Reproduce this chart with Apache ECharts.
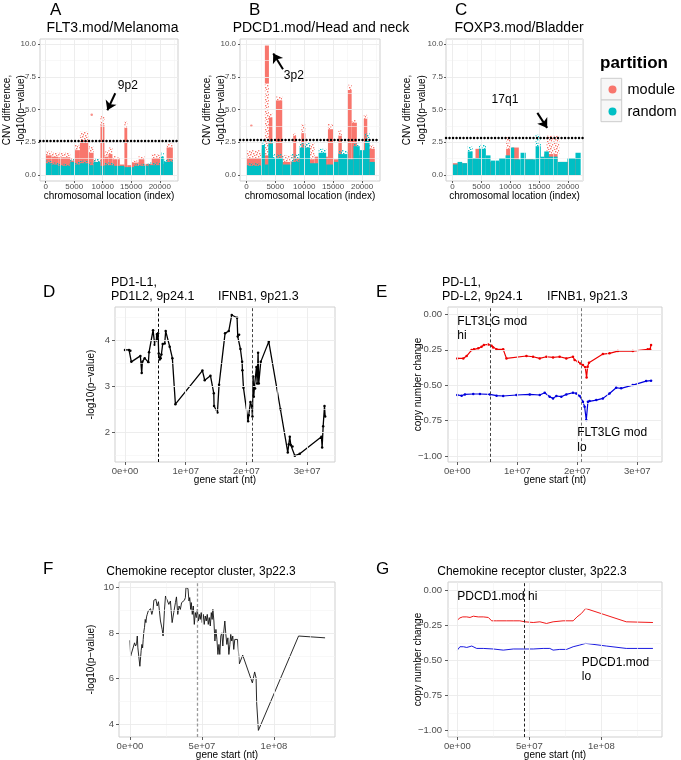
<!DOCTYPE html>
<html><head><meta charset="utf-8">
<script src="https://cdn.jsdelivr.net/npm/echarts@6/dist/echarts.min.js"></script>
<style>html,body{margin:0;padding:0;background:#fff}#c{width:681px;height:760px}</style>
</head><body><div id="c"></div>
<script>
// ---------------- DATA ----------------
// Panels A-C: point clouds summarised as bands [indexStart, indexEnd, yLow, yHigh, dense(1)/sparse(0)]
const A_moduleBands = [
 [0,1000,0,1.5,1],[0,1000,1.5,1.85,0],[1000,2200,0,1.4,1],[1000,2200,1.4,1.7,0],
 [2200,4300,0,1.35,1],[2200,4300,1.35,1.7,0],[4300,5100,0,1.1,1],[4300,5100,1.1,1.3,0],
 [5100,6000,0,1.9,1],[5100,6000,1.9,2.3,0],[6000,7500,0,2.6,1],[6000,7500,2.6,3.3,0],
 [7500,8400,0,1.7,1],[7500,8400,1.7,2.2,0],[8400,9600,0,0.9,1],[8400,9600,0.9,1.2,0],
 [9600,10300,0,3.8,1],[9600,10300,3.8,4.5,0],[10300,11000,0,1.4,1],[10300,11000,1.4,1.8,0],
 [11000,11700,0,1.6,1],[11000,11700,1.6,2.1,0],[11700,13000,0,1.2,1],[11700,13000,1.2,1.45,0],
 [13000,13800,0,0.8,1],[13800,14300,0,3.6,1],[13800,14300,3.6,4.1,0],[14300,15100,0,0.75,1],
 [15100,16300,0,0.95,1],[15100,16300,0.95,1.1,0],[16300,17300,0,1.2,1],[16300,17300,1.2,1.45,0],
 [17300,18600,0,0.85,1],[18600,20100,0,1.3,1],[18600,20100,1.3,1.6,0],[20100,21200,0,0.85,1],
 [21200,22300,0,2.1,1],[21200,22300,2.1,2.4,0]
];
const A_randomBands = [
 [0,1000,0,0.9,1],[0,1000,0.9,1.1,0],[1000,2200,0,0.8,1],[1000,2200,0.8,0.95,0],
 [2200,4300,0,0.7,1],[2200,4300,0.7,0.85,0],[4300,5100,0,1.0,1],[4300,5100,1.0,1.2,0],
 [5100,6000,0,0.8,1],[5100,6000,0.8,1.0,0],[6000,7500,0,0.9,1],[6000,7500,0.9,1.1,0],
 [7500,8400,0,0.75,1],[7500,8400,0.75,0.95,0],[8400,9600,0,1.0,1],[8400,9600,1.0,1.25,0],
 [9600,10300,0,0.7,1],[10300,12000,0,0.75,1],[10300,12000,0.75,0.95,0],
 [12000,13800,0,0.7,1],[13800,15500,0,0.6,1],[15500,18000,0,0.7,1],[15500,18000,0.7,0.85,0],
 [18000,20100,0,0.75,1],[18000,20100,0.75,0.95,0],[20100,20700,0,1.4,1],[20100,20700,1.4,1.7,0],
 [20700,22300,0,1.0,1],[20700,22300,1.0,1.2,0]
];
const A_moduleDots = [[8070,4.6]];

const B_moduleBands = [
 [0,2600,0,1.3,1],[0,2600,1.3,1.9,0],[2600,3200,0,2.0,1],
 [3200,3900,0,1.5,1],[3200,3900,1.5,7.0,0],[3200,3900,7.0,9.9,1],
 [3900,4500,0,4.4,1],[3900,4500,4.4,4.7,0],[4500,5100,0,1.0,1],
 [5100,6200,0,5.7,1],[5100,6200,5.7,6.0,0],[6200,8100,0,1.0,1],[6200,8100,1.0,1.5,0],
 [8100,8600,0,3.0,1],[8100,8600,3.0,3.2,0],[8600,9500,0,1.3,1],
 [9500,10200,0,3.2,1],[9500,10200,3.2,3.9,0],[10200,11800,0,1.2,1],[10200,11800,1.2,2.4,0],
 [11800,14100,0,1.4,1],[14100,15000,0,3.5,1],[14100,15000,3.5,3.9,0],[15000,15900,0,1.2,1],
 [15900,16500,0,3.0,1],[15900,16500,3.0,3.4,0],[16500,17500,0,1.5,1],
 [17500,18200,0,6.5,1],[17500,18200,6.5,6.9,0],[18200,19100,0,4.0,1],[18200,19100,4.0,4.2,0],
 [19100,20300,0,1.5,1],[20300,20900,0,4.3,1],[20300,20900,4.3,4.6,0],
 [20900,22200,0,2.0,1],[20900,22200,2.0,2.3,0]
];
const B_randomBands = [
 [0,2600,0,0.7,1],[0,2600,0.7,0.9,0],[2600,3200,0,2.3,1],[2600,3200,2.3,2.7,0],
 [3200,3800,0,0.8,1],[3800,4600,0,2.4,1],[3800,4600,2.4,2.7,0],
 [4600,6300,0,1.3,1],[4600,6300,1.3,1.6,0],[6300,7800,0,0.8,1],
 [7800,9200,0,1.0,1],[7800,9200,1.0,1.6,0],[9200,11000,0,2.1,1],[9200,11000,2.1,2.5,0],
 [11000,12400,0,0.9,1],[12400,13800,0,1.7,1],[12400,13800,1.7,2.0,0],
 [13800,15000,0,0.8,1],[15000,15900,0,1.0,1],[15900,17600,0,1.6,1],[15900,17600,1.6,1.9,0],
 [17600,18500,0,1.2,1],[18500,19600,0,2.2,1],[18500,19600,2.2,2.4,0],[19600,20500,0,1.9,1],
 [20500,21300,0,2.6,1],[20500,21300,2.6,3.2,0],[21300,22200,0,1.0,1]
];
const B_moduleDots = [[860,3.77]];

const C_moduleBands = [
 [0,2600,0,0.9,1],[2600,3500,0,1.3,1],[4000,4900,0,2.0,1],[6200,8800,0,1.0,1],
 [9300,10000,0,2.0,1],[9300,10000,2.0,2.9,0],[10300,11500,0,2.1,1],[12200,14000,0,1.2,1],
 [15900,18200,0,1.6,1],[16300,18500,1.6,3.0,0],[18500,20500,0,1.0,1],[20500,21400,0,1.2,1]
];
const C_randomBands = [
 [0,900,0,0.8,1],[900,1700,0,1.0,1],[1700,2600,0,0.9,1],[2600,3500,0,1.8,1],[2600,3500,1.8,2.2,0],
 [3500,4600,0,1.3,1],[4600,5800,0,2.0,1],[4600,5800,2.0,2.3,0],[5800,6600,0,1.5,1],
 [6600,8100,0,1.1,1],[8100,9200,0,1.3,1],[9200,10100,0,1.5,1],[10100,10700,0,2.1,1],
 [10700,11800,0,1.2,1],[11800,12700,0,1.7,1],[12700,14400,0,1.2,1],
 [14400,15300,0,2.2,1],[14400,15300,2.2,3.1,0],[15300,15900,0,1.4,1],[15900,16700,0,1.8,1],
 [16700,18200,0,1.4,1],[18200,19900,0,1.0,1],[19900,21300,0,1.3,1],[21300,22200,0,1.7,1]
];
const abcThresholds = [2.65, 2.7, 2.85];

// Panel D: gene start (Mb) vs -log10(p)
const D_startMb = [0,0.66,0.88,1.04,2.53,2.75,2.86,3.24,3.85,3.96,4.62,4.89,5.11,5.22,5.33,5.44,5.55,5.71,5.88,5.99,6.21,6.54,6.70,7.36,7.80,8.30,12.75,13.13,14.07,14.62,14.67,15.22,15.49,16.48,17.09,17.58,18.46,18.57,18.79,19.01,19.29,19.34,19.51,20.27,20.38,20.66,20.88,20.99,21.10,21.21,21.32,21.43,21.65,21.76,21.92,22.03,22.36,23.68,25.60,26.81,26.98,27.14,27.31,27.58,27.97,28.79,32.36,32.47,32.64,32.86,32.97];
const D_logP = [3.80,3.80,3.78,3.54,3.67,3.30,3.54,3.62,3.53,3.75,4.23,3.91,4.01,4.14,4.03,4.16,3.72,3.59,3.62,3.70,3.93,3.94,4.21,3.87,3.62,2.62,3.35,3.14,3.24,2.86,2.58,2.44,3.04,4.16,4.21,4.56,4.50,4.09,4.13,3.82,3.54,3.36,2.98,2.25,2.38,2.67,2.57,2.35,3.22,2.78,3.00,2.96,3.43,3.07,3.74,3.07,3.54,3.98,2.51,1.57,1.75,1.91,1.73,1.70,1.50,1.54,1.91,1.68,2.14,2.58,2.35];

// Panel E: copy number change
const E_hiStartMb = [0,1.0,1.55,2.38,2.77,3.49,4.04,4.43,5.15,5.71,5.98,6.54,7.65,8.20,11.52,12.63,13.74,14.85,15.96,17.06,18.17,19.28,19.56,20.11,20.50,20.94,21.33,21.55,21.72,21.94,24.27,25.37,26.76,29.25,31.75,32.13,32.30];
const E_hiCN = [-0.311,-0.311,-0.294,-0.252,-0.247,-0.240,-0.228,-0.216,-0.212,-0.221,-0.233,-0.247,-0.247,-0.311,-0.294,-0.299,-0.311,-0.299,-0.304,-0.299,-0.311,-0.299,-0.322,-0.334,-0.346,-0.358,-0.374,-0.445,-0.369,-0.341,-0.280,-0.275,-0.259,-0.259,-0.247,-0.247,-0.216];
const E_loStartMb = [0,0.72,1.27,2.66,3.77,5.43,6.54,7.65,9.86,12.08,13.74,14.57,15.40,15.96,16.51,17.34,18.17,19.28,19.83,20.39,20.94,21.22,21.50,21.77,22.05,23.16,24.27,25.37,26.48,27.31,29.25,31.47,32.30];
const E_loCN = [-0.569,-0.574,-0.565,-0.562,-0.562,-0.565,-0.574,-0.576,-0.569,-0.565,-0.569,-0.553,-0.581,-0.593,-0.576,-0.581,-0.565,-0.553,-0.558,-0.576,-0.616,-0.652,-0.746,-0.616,-0.612,-0.605,-0.593,-0.558,-0.518,-0.522,-0.499,-0.471,-0.468];

// Panel F
const F_startMb = [0,0.5,1.6,3.2,3.9,4.6,5.1,5.5,6.9,7.8,8.3,8.8,9.2,9.7,10.1,10.6,11.1,11.5,12.0,12.7,13.4,14.3,15.2,16.1,16.6,17.3,18.0,18.9,19.8,21.2,22.4,23.0,24.0,24.7,25.8,27.0,28.1,29.3,30.4,31.6,32.3,33.2,34.1,35.0,35.9,36.9,37.8,38.5,38.9,40.3,41.0,41.5,42.2,42.6,43.3,44.0,44.7,45.4,46.1,46.8,47.5,48.2,48.8,49.5,50.2,50.9,51.6,52.3,53.0,53.7,54.4,55.1,55.8,56.5,57.1,57.6,58.3,59.0,59.7,60.4,61.1,61.8,62.4,63.1,63.8,64.5,65.2,65.9,66.6,67.3,68.0,68.7,69.4,70.0,70.7,71.4,72.1,72.8,73.5,74.7,75.6,76.0,78.3,85.0,86.6,87.6,88.0,89.2,117.1,135.5];
const F_logP = [7.68,6.99,7.01,7.57,7.43,7.53,7.87,7.35,6.54,7.24,7.50,7.35,7.72,8.09,8.24,8.60,8.46,8.71,8.82,8.97,9.04,9.07,8.82,9.04,9.44,9.38,9.49,9.19,9.38,8.53,8.16,7.87,9.04,9.63,9.63,9.26,9.41,8.46,8.90,9.34,9.59,8.82,9.19,9.04,9.34,9.41,9.44,9.56,10.0,9.96,9.41,9.56,9.04,9.34,8.82,9.19,8.38,8.90,8.68,9.04,8.53,8.82,8.60,8.90,8.46,8.82,8.38,8.75,8.53,8.82,8.38,8.68,8.31,8.90,8.60,9.04,8.53,7.65,8.16,7.72,7.06,7.50,7.06,7.87,8.01,7.43,8.09,8.53,7.94,7.50,7.79,7.06,7.50,7.94,7.65,7.87,7.28,7.72,7.79,7.72,7.65,6.65,7.03,5.81,6.29,6.03,4.93,3.72,7.87,7.79];

// Panel G
const G_hiStartMb = [0,1.8,3.7,4.6,6.5,8.8,11.1,14.5,18.0,21.5,23.8,27.3,34.2,38.8,43.4,46.9,52.7,57.3,61.9,66.5,73.4,80.4,83.1,86.1,89.1,117.3,135.8];
const G_hiCN = [-0.213,-0.197,-0.190,-0.194,-0.190,-0.194,-0.185,-0.190,-0.190,-0.194,-0.218,-0.218,-0.218,-0.218,-0.218,-0.225,-0.230,-0.225,-0.237,-0.225,-0.218,-0.218,-0.190,-0.166,-0.130,-0.225,-0.230];
const G_loStartMb = [0,1.8,4.2,6.5,10.0,13.4,18.0,24.9,31.9,38.8,45.7,52.7,59.6,64.2,66.5,71.1,75.8,80.4,85.0,89.1,103.5,117.3,135.8];
const G_loCN = [-0.427,-0.403,-0.403,-0.408,-0.398,-0.415,-0.415,-0.419,-0.427,-0.419,-0.419,-0.419,-0.415,-0.415,-0.427,-0.422,-0.422,-0.403,-0.391,-0.379,-0.398,-0.415,-0.415];

// tick values
const idxTicks = [0,5000,10000,15000,20000];
const idxMinor = [2500,7500,12500,17500,22500];
const cnvTicks = [0,2.5,5,7.5,10];
const cnvMinor = [1.25,3.75,6.25,8.75];
const dxTicks = [0,10,20,30], dxMinor = [5,15,25];
const dyTicks = [2,3,4], dyMinor = [1.5,2.5,3.5,4.5];
const cnTicks = [-1,-0.75,-0.5,-0.25,0], cnMinor = [-0.875,-0.625,-0.375,-0.125];
const fxTicks = [0,50,100], fxMinor = [25,75,125];
const fyTicks = [4,6,8,10], fyMinor = [5,7,9];

// ---------------- CHART ----------------
const FONT = '"Liberation Sans", Arial, Helvetica, sans-serif';
const RED = '#F8766D', TEAL = '#00BFC4';
const chart = echarts.init(document.getElementById('c'));

// speckle fill used for the sparse (scattered-point) parts of the clouds
function speckle(color) {
  const c = document.createElement('canvas'); c.width = 6; c.height = 6;
  const g = c.getContext('2d'); g.fillStyle = color;
  [[0,0],[3,1],[1,3],[4,4],[5,2],[2,5]].forEach(p => g.fillRect(p[0], p[1], 1.4, 1.4));
  return {image:c, repeat:'repeat'};
}
const SPECK = {};

const gridBoxes = [
 [40,39,138,142],[240,39,140,142],[446,39,137,142],
 [115,307,220,155],[448,307,214,155],
 [119,582,216,155],[448,582,214,155]
];
const grid = gridBoxes.map(g => ({left:g[0], top:g[1], width:g[2], height:g[3], show:true,
  borderColor:'#cfcfcf', borderWidth:1, backgroundColor:'#fff', containLabel:false, outerBoundsMode:'none'}));

const sci = v => (v*1e6).toExponential(0).replace(/e\+(\d)$/, 'e+0$1');
const cnFmt = v => v === 0 ? '0.00' : '\u2212' + Math.abs(v).toFixed(2);

function axis(gi, min, max, ticks, fmt, o) {
  return {type:'value', gridIndex:gi, min, max,
    name:o.name, nameLocation:'middle', nameGap:o.nameGap, nameMoveOverlap:false,
    nameTextStyle:{fontFamily:FONT, fontSize:10, color:'#000', lineHeight:o.lh || 12.5},
    axisLine:{show:false, onZero:false}, splitLine:{show:false},
    axisTick:{show:true, length:o.tick, customValues:ticks, lineStyle:{color:'#333', width:0.8}},
    axisLabel:{show:true, customValues:ticks, formatter:fmt, fontFamily:FONT, fontSize:o.fs, color:'#4d4d4d', margin:o.margin}};
}
const abcY = 'CNV difference,\n-log10(p\u2212value)';
const xAxis = [
 axis(0,-1000,23200,idxTicks,v=>String(v),{name:'chromosomal location (index)',nameGap:9,tick:2,fs:8,margin:2}),
 axis(1,-1100,23100,idxTicks,v=>String(v),{name:'chromosomal location (index)',nameGap:9,tick:2,fs:8,margin:2}),
 axis(2,-1100,22600,idxTicks,v=>String(v),{name:'chromosomal location (index)',nameGap:9,tick:2,fs:8,margin:2}),
 axis(3,-1.65,34.59,dxTicks,sci,{name:'gene start (nt)',nameGap:12,tick:3,fs:9.5,margin:4}),
 axis(4,-1.55,34.12,dxTicks,sci,{name:'gene start (nt)',nameGap:12,tick:3,fs:9.5,margin:4}),
 axis(5,-7.6,142.4,fxTicks,sci,{name:'gene start (nt)',nameGap:12,tick:3,fs:9.5,margin:4}),
 axis(6,-6.5,142.1,fxTicks,sci,{name:'gene start (nt)',nameGap:12,tick:3,fs:9.5,margin:4})
];
const yAxis = [
 axis(0,-0.46,10.4,cnvTicks,v=>v.toFixed(1),{name:abcY,nameGap:11.5,tick:2,fs:8,margin:4,lh:14.5}),
 axis(1,-0.46,10.4,cnvTicks,v=>v.toFixed(1),{name:abcY,nameGap:11.5,tick:2,fs:8,margin:4,lh:14.5}),
 axis(2,-0.46,10.4,cnvTicks,v=>v.toFixed(1),{name:abcY,nameGap:17,tick:2,fs:8,margin:3,lh:14.5}),
 axis(3,1.363,4.733,dyTicks,v=>String(v),{name:'-log10(p\u2212value)',nameGap:18,tick:3,fs:9.5,margin:5}),
 axis(4,-1.042,0.052,cnTicks,cnFmt,{name:'copy number change',nameGap:24,tick:3,fs:9.5,margin:6}),
 axis(5,3.43,10.245,fyTicks,v=>String(v),{name:'-log10(p\u2212value)',nameGap:22,tick:3,fs:9.5,margin:5}),
 axis(6,-1.047,0.059,cnTicks,cnFmt,{name:'copy number change',nameGap:24,tick:3,fs:9.5,margin:6})
];

function gridLines(gi, xMaj, xMin, yMaj, yMin) {
  const minor = {color:'#f4f4f4', width:0.6, type:'solid'}, major = {color:'#ebebeb', width:0.9, type:'solid'};
  const d = [];
  xMin.forEach(v => d.push({xAxis:v, lineStyle:minor}));
  yMin.forEach(v => d.push({yAxis:v, lineStyle:minor}));
  xMaj.forEach(v => d.push({xAxis:v, lineStyle:major}));
  yMaj.forEach(v => d.push({yAxis:v, lineStyle:major}));
  return {type:'line', xAxisIndex:gi, yAxisIndex:gi, data:[], z:1, silent:true,
    markLine:{silent:true, symbol:'none', label:{show:false}, animation:false, lineStyle:{type:'solid'}, data:d}};
}

function bands(name, gi, data, color, z) {
  SPECK[color] = SPECK[color] || speckle(color);
  return {type:'custom', name, xAxisIndex:gi, yAxisIndex:gi, data, z, silent:true,
    encode:{x:[0,1], y:[2,3]}, itemStyle:{color},
    renderItem:(params, api) => {
      const p0 = api.coord([api.value(0), api.value(3)]);
      const p1 = api.coord([api.value(1), api.value(2)]);
      const dense = api.value(4) === 1;
      return {type:'rect', shape:{x:p0[0], y:p0[1], width:p1[0]-p0[0], height:p1[1]-p0[1]},
        style:{fill: dense ? color : SPECK[color], opacity: 1}};
    }};
}
function dots(name, gi, data, color) {
  return {type:'scatter', name, xAxisIndex:gi, yAxisIndex:gi, data, z:3, symbolSize:2.5, itemStyle:{color}, silent:true};
}
const txt = (coord, text, fs, align) => ({coord, symbol:'rect', symbolSize:1, itemStyle:{color:'rgba(0,0,0,0)'},
  label:{show:true, formatter:text, position:'inside', align:align||'center', verticalAlign:'middle',
    fontFamily:FONT, fontSize:fs, color:'#000', lineHeight:14.3}});
const arrow = (from, to) => [{coord:from, symbol:'none'}, {coord:to, symbol:'arrow', symbolSize:9}];
const arrowStyle = {color:'#000', width:2, type:'solid'};
const thr = v => ({yAxis:v, lineStyle:{color:'#000', width:2.4, type:[0.1,3.4], cap:'round'}});
const vdash = (v, color, width) => ({xAxis:v, lineStyle:{color, width:width||1, type:[3,2.2]}});

function annot(gi, lines, points) {
  return {type:'line', xAxisIndex:gi, yAxisIndex:gi, data:[], z:6, silent:true,
    markLine:{silent:true, symbol:'none', label:{show:false}, animation:false, lineStyle:arrowStyle, data:lines},
    markPoint:{silent:true, animation:false, data:points||[]}};
}

const zip = (a, b) => a.map((v, i) => [v, b[i]]);
function lineS(gi, xs, ys, color, width, sym) {
  return {type:'line', xAxisIndex:gi, yAxisIndex:gi, data:zip(xs, ys), z:4, silent:true,
    showSymbol:sym > 0, symbol:'circle', symbolSize:sym, itemStyle:{color},
    lineStyle:{color, width}};
}

const series = [
 gridLines(0, idxTicks, idxMinor, cnvTicks, cnvMinor),
 gridLines(1, idxTicks, idxMinor, cnvTicks, cnvMinor),
 gridLines(2, idxTicks, idxMinor, cnvTicks, cnvMinor),
 gridLines(3, dxTicks, dxMinor, dyTicks, dyMinor),
 gridLines(4, dxTicks, dxMinor, cnTicks, cnMinor),
 gridLines(5, fxTicks, fxMinor, fyTicks, fyMinor),
 gridLines(6, fxTicks, fxMinor, cnTicks, cnMinor),
 bands('module', 0, A_moduleBands, RED, 2), dots('module', 0, A_moduleDots, RED), bands('random', 0, A_randomBands, TEAL, 3),
 bands('module', 1, B_moduleBands, RED, 2), dots('module', 1, B_moduleDots, RED), bands('random', 1, B_randomBands, TEAL, 3),
 bands('module', 2, C_moduleBands, RED, 2), bands('random', 2, C_randomBands, TEAL, 3),
 annot(0, [thr(abcThresholds[0]), arrow([12200,6.25],[10800,4.95])], [txt([14400,6.8],'9p2',12)]),
 annot(1, [thr(abcThresholds[1]), arrow([6330,8.09],[4650,9.29])], [txt([8200,7.63],'3p2',12)]),
 annot(2, [thr(abcThresholds[2]), arrow([14700,4.75],[16400,3.6])], [txt([9100,5.73],'17q1',12)]),
 lineS(3, D_startMb, D_logP, '#000', 1.3, 2.5),
 annot(3, [vdash(5.5,'#000'), vdash(21.0,'#444')]),
 lineS(4, E_hiStartMb, E_hiCN, '#ee0000', 1.2, 2.5),
 lineS(4, E_loStartMb, E_loCN, '#0000dd', 1.2, 2.5),
 annot(4, [vdash(5.45,'#444'), vdash(20.6,'#777')], [txt([0,-0.103],'FLT3LG mod\nhi',12,'left'), txt([20.0,-0.887],'FLT3LG mod\nlo',12,'left')]),
 lineS(5, F_startMb, F_logP, '#111', 0.9, 0),
 annot(5, [vdash(46.5,'#999',1.3)]),
 lineS(6, G_hiStartMb, G_hiCN, '#ee0000', 0.9, 0),
 lineS(6, G_loStartMb, G_loCN, '#0000dd', 0.9, 0),
 annot(6, [vdash(46.4,'#222')], [txt([0,-0.048],'PDCD1.mod hi',12,'left'), txt([86.4,-0.569],'PDCD1.mod\nlo',12,'left')])
];

const T = (text, left, top, fs, o) => Object.assign({text, left, top, padding:0, itemGap:0,
  textStyle:{fontFamily:FONT, fontSize:fs, fontWeight:'normal', color:'#000', lineHeight:14}}, o||{});
const title = [
 T('A',50,3,17), T('FLT3.mod/Melanoma',112.5,21,14,{textAlign:'center'}),
 T('B',249,3,17), T('PDCD1.mod/Head and neck',321,21,14,{textAlign:'center'}),
 T('C',455,3,17), T('FOXP3.mod/Bladder',519,21,14,{textAlign:'center'}),
 {text:'partition', left:600, top:55, padding:0, textStyle:{fontFamily:FONT, fontSize:17, fontWeight:'bold', color:'#000'}},
 T('D',43,285,17), T('PD1-L1,\nPD1L2, 9p24.1',111,276,12.5), T('IFNB1, 9p21.3',218,290,12.5),
 T('E',376,285,17), T('PD-L1,\nPD-L2, 9p24.1',442,276,12.5), T('IFNB1, 9p21.3',547,290,12.5),
 T('F',43,562,17), T('Chemokine receptor cluster, 3p22.3',201,565,12,{textAlign:'center'}),
 T('G',376,562,17), T('Chemokine receptor cluster, 3p22.3',532,565,12,{textAlign:'center'})
];

chart.setOption({
  animation:false, backgroundColor:'#fff',
  title, grid, xAxis, yAxis, series,
  graphic:[
    {type:'rect', shape:{x:601,y:78.3,width:20.7,height:21.7}, style:{fill:'#f7f7f7', stroke:'#cccccc', lineWidth:1}, z:-1},
    {type:'rect', shape:{x:601,y:100,width:20.7,height:21.7}, style:{fill:'#f7f7f7', stroke:'#cccccc', lineWidth:1}, z:-1}
  ],
  legend:{data:['module','random'], orient:'vertical', left:608.5, top:82, padding:0, itemGap:7,
    itemWidth:20, itemHeight:8, icon:'circle', selectedMode:false,
    textStyle:{fontFamily:FONT, fontSize:14.5, color:'#000'}}
});
</script></body></html>
